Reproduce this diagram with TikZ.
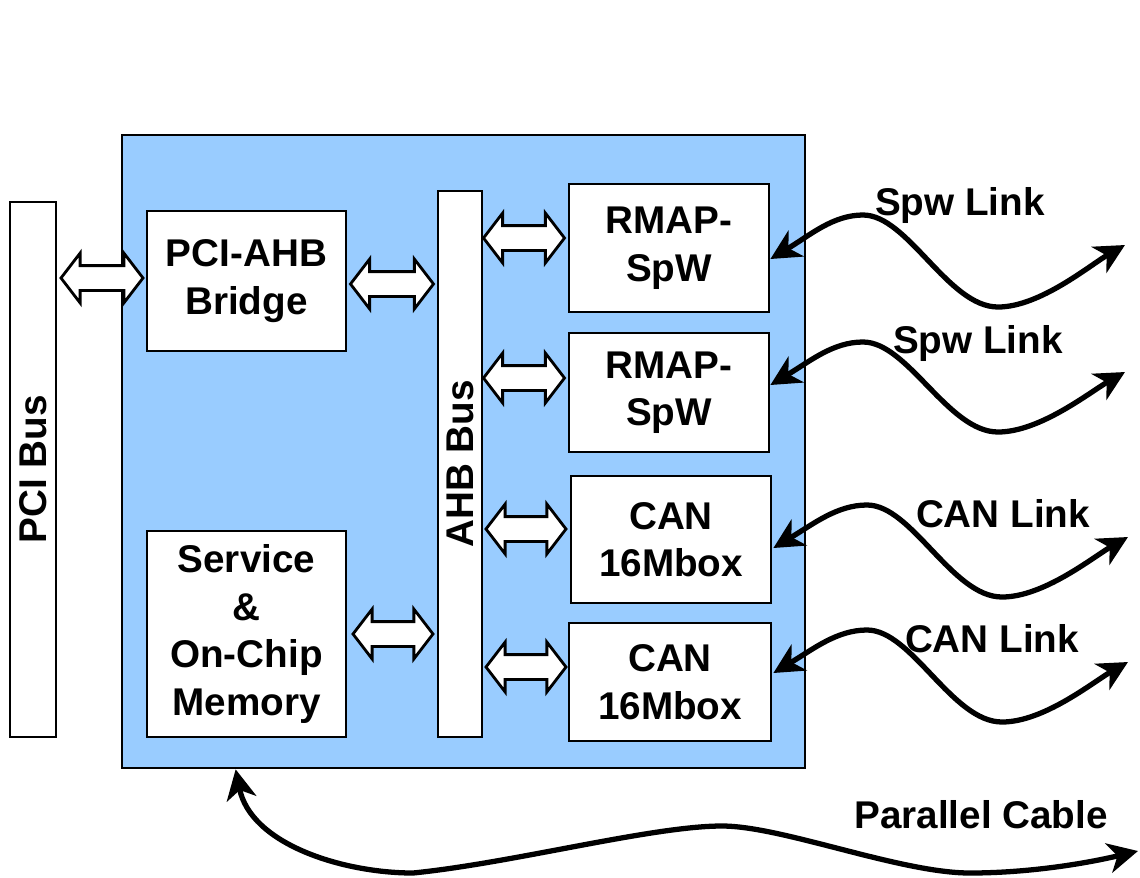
\documentclass[tikz,border=0pt]{standalone}
\usepackage{fontspec}
\setmainfont{Liberation Sans}
\usetikzlibrary{arrows.meta, calc, shapes.arrows, positioning}
\definecolor{boardblue}{RGB}{153,204,255}

\begin{document}
\begin{tikzpicture}[x=0.02cm, y=-0.02cm,
    every node/.style={font=\bfseries\fontsize{22}{27}\selectfont},
    box/.style={draw, line width=1.6pt, fill=white, align=center, inner sep=0pt},
    busarrow/.style={double arrow, draw, line width=1.6pt, fill=white,
        inner xsep=0pt, inner ysep=0.22cm, text height=0pt, text depth=0pt,
        minimum height=1.62cm,
        double arrow head extend=0.25cm, double arrow tip angle=105},
    link/.style={line width=3pt, {Stealth[length=17pt,width=17pt,inset=5pt]}-{Stealth[length=17pt,width=17pt,inset=5pt]}}]
    \useasboundingbox (0,0) rectangle (1140,877);

    % board and blocks
    \node[draw, line width=1.6pt, fill=boardblue, inner sep=0pt, minimum width=13.66cm, minimum height=12.66cm] (board) at (463.5,451.5) {};
    \node[box, rotate=90, minimum width=10.7cm, minimum height=0.92cm] (pci) at (33,469.5) {PCI Bus};
    \node[box, minimum width=3.98cm, minimum height=2.8cm] (bridge) at (246.5,281) {PCI-AHB\\Bridge};
    \node[box, minimum width=3.98cm, minimum height=4.12cm] (mem) at (246.5,634) {Service\\\&\\On-Chip\\Memory};
    \node[box, rotate=90, minimum width=10.92cm, minimum height=0.88cm] (ahb) at (460,464) {AHB Bus};
    \node[box, minimum width=4cm, minimum height=2.56cm] (rmap1) at (669,248) {RMAP-\\SpW};
    \node[box, minimum width=4cm, minimum height=2.38cm] (rmap2) at (669,392.5) {RMAP-\\SpW};
    \node[box, minimum width=4cm, minimum height=2.54cm] (can1) at (671,539.5) {CAN\\16Mbox};
    \node[box, minimum width=4.04cm, minimum height=2.36cm] (can2) at (670,682) {CAN\\16Mbox};

    % bus connections
    \node[busarrow, minimum height=1.64cm] (pcibr) at (102,278) {};
    \node[busarrow, minimum height=1.66cm] (brahb) at (392,284) {};
    \node[busarrow, minimum height=1.6cm] (memahb) at (393,634) {};
    \node[busarrow] (ahbr1) at (524,238) {};
    \node[busarrow] (ahbr2) at (524,378) {};
    \node[busarrow, minimum height=1.6cm] (ahbc1) at (526,529) {};
    \node[busarrow, minimum height=1.6cm] (ahbc2) at (526,667) {};

    % links
    \coordinate (spw1end) at (1125,245);
    \coordinate (spw2end) at (1125,372);
    \coordinate (can1end) at (1128,537);
    \coordinate (can2end) at (1128,662);
    \coordinate (cableend) at (1138,851);
    \draw[link] ($(rmap1.east)+(0,11)$) .. controls +(40,-24) and +(-30,0) .. (863,215) .. controls +(45,0) and +(-50,0) .. (998,307) .. controls +(42,0) and +(-35,20) .. (spw1end);
    \draw[link] ($(rmap2.east)+(0,-7.5)$) .. controls +(40,-24) and +(-30,0) .. (863,342) .. controls +(45,0) and +(-50,0) .. (998,432) .. controls +(42,0) and +(-35,20) .. (spw2end);
    \draw[link] ($(can1.east)+(1,8.5)$) .. controls +(40,-24) and +(-30,0) .. (867,505) .. controls +(45,0) and +(-50,0) .. (1002,597) .. controls +(42,0) and +(-35,20) .. (can1end);
    \draw[link] ($(can2.east)+(1,-9)$) .. controls +(40,-24) and +(-30,0) .. (867,630) .. controls +(45,0) and +(-50,0) .. (1002,722) .. controls +(42,0) and +(-35,20) .. (can2end);
    \draw[link] ($(board.south west)+(115,0)$) .. controls +(15,75) and +(-70,0) .. (413,873) .. controls +(100,-10) and +(-70,0) .. (722,826) .. controls +(60,0) and +(-70,0) .. (970,873) .. controls +(60,0) and +(-50,12) .. (cableend);

    \node[anchor=base] (spw1lbl) at (960,215) {Spw Link};
    \node[anchor=base] (spw2lbl) at (978,353) {Spw Link};
    \node[anchor=base] (can1lbl) at (1003,527) {CAN Link};
    \node[anchor=base] (can2lbl) at (992,652) {CAN Link};
    \node[anchor=base] (cablelbl) at (981,828) {Parallel Cable};
\end{tikzpicture}
\end{document}
